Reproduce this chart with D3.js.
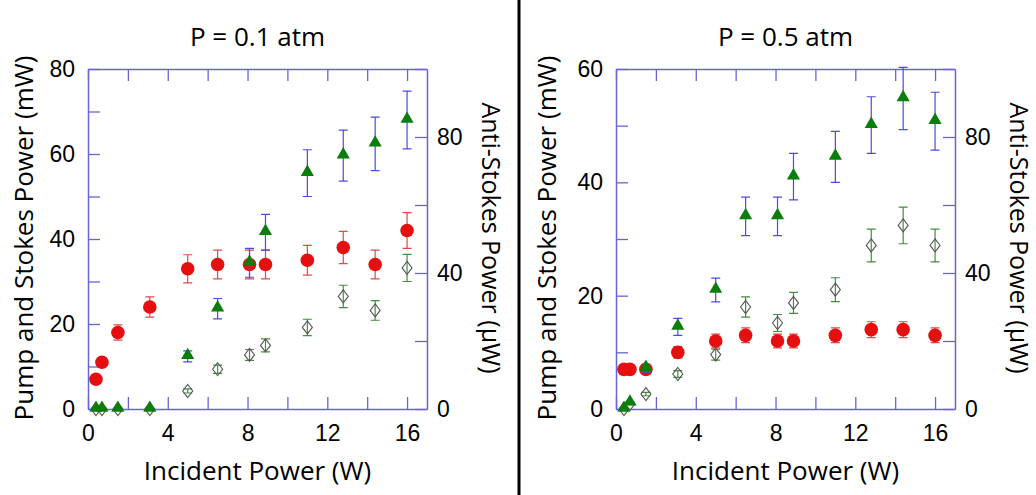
<!DOCTYPE html>
<html>
<head>
<meta charset="utf-8">
<script src="https://cdn.jsdelivr.net/npm/d3@7"></script>
<style>
  body { margin: 0; background: #fff; }
  svg { display: block; }
  .tick text { font-family: "Liberation Sans", Arial, sans-serif; font-size: 23px; fill: #000; }
  .lbl { font-family: "Open Sans", sans-serif; font-size: 26px; fill: #000; }
  .lbl.side { font-size: 25px; }
</style>
</head>
<body>
<svg id="chart" width="1036" height="495"></svg>
<script>
// incident power (W), same for both panels
var incident = [0.4, 0.7, 1.5, 3.1, 5.0, 6.5, 8.1, 8.9, 11.0, 12.8, 14.4, 16.0];

// P = 0.1 atm
var pump01 = [7, 11, 18, 24, 33, 34, 34, 34, 35, 38, 34, 42];
var pumpErr01 = [0.7, 1.1, 1.8, 2.4, 3.3, 3.4, 3.4, 3.4, 3.5, 3.8, 3.4, 4.2];
var stokes01 = [0, 0, 0, 0, 12.4, 23.6, 34.4, 41.6, 55.5, 59.6, 62.4, 68];
var stokesErr01 = [0, 0, 0, 0, 1.3, 2.4, 3.4, 4.2, 5.5, 6.0, 6.3, 6.8];
var anti01 = [0, 0, 0, 0, 5.3, 11.7, 15.9, 18.7, 24, 33.1, 29, 41.5];
var antiErr01 = [0, 0, 0, 0, 0.6, 1.2, 1.6, 1.9, 2.4, 3.3, 2.9, 4.0];

// P = 0.5 atm
var pump05 = [7, 7, 7, 10, 12, 13, 12, 12, 13, 14, 14, 13];
var pumpErr05 = [0.7, 0.7, 0.7, 1.0, 1.2, 1.3, 1.2, 1.2, 1.3, 1.4, 1.4, 1.3];
var stokes05 = [0, 1.1, 7.2, 14.5, 21, 34, 34, 41, 44.5, 50.1, 54.8, 50.8];
var stokesErr05 = [0, 0.1, 0.7, 1.5, 2.1, 3.4, 3.4, 4.1, 4.5, 5.0, 5.5, 5.1];
var anti05 = [0, 1.5, 4.4, 10.3, 16, 30, 25.3, 31.2, 35.1, 48.1, 54, 48.1];
var antiErr05 = [0, 0.2, 0.5, 1.0, 1.6, 3.0, 2.5, 3.1, 3.5, 4.8, 5.4, 4.8];

var titles = ["P = 0.1 atm", "P = 0.5 atm"];
var leftMax = [80, 60];
var xTicks = [0, 2, 4, 6, 8, 10, 12, 14, 16];
var rightTicks = [0, 20, 40, 60, 80, 100];

var axisColor = "#6565dc";
var svg = d3.select("#chart");

function drawPanel(px, title, yMax, pump, pumpErr, stokes, stokesErr, anti, antiErr, leftLblX) {
	var top = 69, bottom = 409, w = 339;
	var g = svg.append("g");
	var x = d3.scaleLinear().domain([0, 17]).range([px, px + w]);
	var yL = d3.scaleLinear().domain([0, yMax]).range([bottom, top]);
	var yR = d3.scaleLinear().domain([0, 100]).range([bottom, top]);

	var leftTicks = d3.range(0, yMax + 1, 10);

	var ax = g.append("g").attr("transform", "translate(0," + bottom + ")")
		.call(d3.axisBottom(x).tickValues(xTicks).tickSizeInner(-12).tickSizeOuter(0).tickPadding(16)
			.tickFormat(function(d) { return d % 4 == 0 ? d : ""; }));
	var at = g.append("g").attr("transform", "translate(0," + top + ")")
		.call(d3.axisTop(x).tickValues(xTicks).tickSizeInner(-12).tickSizeOuter(0).tickFormat(""));
	var al = g.append("g").attr("transform", "translate(" + px + ",0)")
		.call(d3.axisLeft(yL).tickValues(leftTicks).tickSizeInner(-12).tickSizeOuter(0).tickPadding(13)
			.tickFormat(function(d) { return d % 20 == 0 ? d : ""; }));
	var ar = g.append("g").attr("transform", "translate(" + (px + w) + ",0)")
		.call(d3.axisRight(yR).tickValues(rightTicks).tickSizeInner(-12).tickSizeOuter(0).tickPadding(10)
			.tickFormat(function(d) { return d % 40 == 0 ? d : ""; }));
	[ax, at, al, ar].forEach(function(a) {
		a.selectAll("line").attr("stroke", axisColor).attr("stroke-width", 1.3);
		a.selectAll(".domain").attr("stroke", axisColor).attr("stroke-width", 1.5);
	});

	// error bars helper
	function bars(vals, errs, yScale, color) {
		var cap = 4.5;
		var eb = g.append("g").attr("stroke", color).attr("stroke-width", 1.2).attr("fill", "none");
		incident.forEach(function(xv, i) {
			if (!errs[i]) return;
			var cx = x(xv), y1 = yScale(vals[i] + errs[i]), y2 = yScale(vals[i] - errs[i]);
			eb.append("path").attr("d",
				"M" + cx + "," + y1 + " L" + cx + "," + y2 +
				" M" + (cx - cap) + "," + y1 + " L" + (cx + cap) + "," + y1 +
				" M" + (cx - cap) + "," + y2 + " L" + (cx + cap) + "," + y2);
		});
	}

	// anti-Stokes: open diamonds
	bars(anti, antiErr, yR, "#3f8f3f");
	g.append("g").selectAll("path").data(anti).join("path")
		.attr("d", "M0,-6.5 L5,0 L0,6.5 L-5,0 Z")
		.attr("transform", function(d, i) { return "translate(" + x(incident[i]) + "," + yR(d) + ")"; })
		.attr("fill", "none").attr("stroke", "#555").attr("stroke-width", 1.1);

	// pump: red circles
	bars(pump, pumpErr, yL, "#e24848");
	g.append("g").selectAll("circle").data(pump).join("circle")
		.attr("cx", function(d, i) { return x(incident[i]); })
		.attr("cy", function(d) { return yL(d); })
		.attr("r", 6.8)
		.attr("fill", "#e60f0f");

	// Stokes: green triangles
	bars(stokes, stokesErr, yL, "#4b4be0");
	var tri = d3.symbol().type(d3.symbolTriangle).size(75);
	g.append("g").selectAll("path").data(stokes).join("path")
		.attr("d", tri)
		.attr("transform", function(d, i) { return "translate(" + x(incident[i]) + "," + (yL(d) - 1) + ")"; })
		.attr("fill", "#0b7d0b");

	// labels
	var cx = px + w / 2, cy = 238;
	g.append("text").attr("class", "lbl").attr("x", cx).attr("y", 46)
		.attr("text-anchor", "middle").text(title);
	g.append("text").attr("class", "lbl").attr("x", cx).attr("y", 480)
		.attr("text-anchor", "middle").text("Incident Power (W)");
	g.append("text").attr("class", "lbl")
		.attr("transform", "translate(" + leftLblX + "," + cy + ") rotate(-90)")
		.attr("text-anchor", "middle").text("Pump and Stokes Power (mW)");
	g.append("text").attr("class", "lbl side")
		.attr("transform", "translate(" + (px + w + 55) + "," + cy + ") rotate(90)")
		.attr("text-anchor", "middle").text("Anti-Stokes Power (\u00b5W)");
}

drawPanel(88, titles[0], leftMax[0], pump01, pumpErr01, stokes01, stokesErr01, anti01, antiErr01, 33);
drawPanel(616, titles[1], leftMax[1], pump05, pumpErr05, stokes05, stokesErr05, anti05, antiErr05, 556);

// divider between the two panels
svg.append("line").attr("x1", 519).attr("x2", 519).attr("y1", 0).attr("y2", 495)
	.attr("stroke", "#000").attr("stroke-width", 3);
</script>
</body>
</html>
